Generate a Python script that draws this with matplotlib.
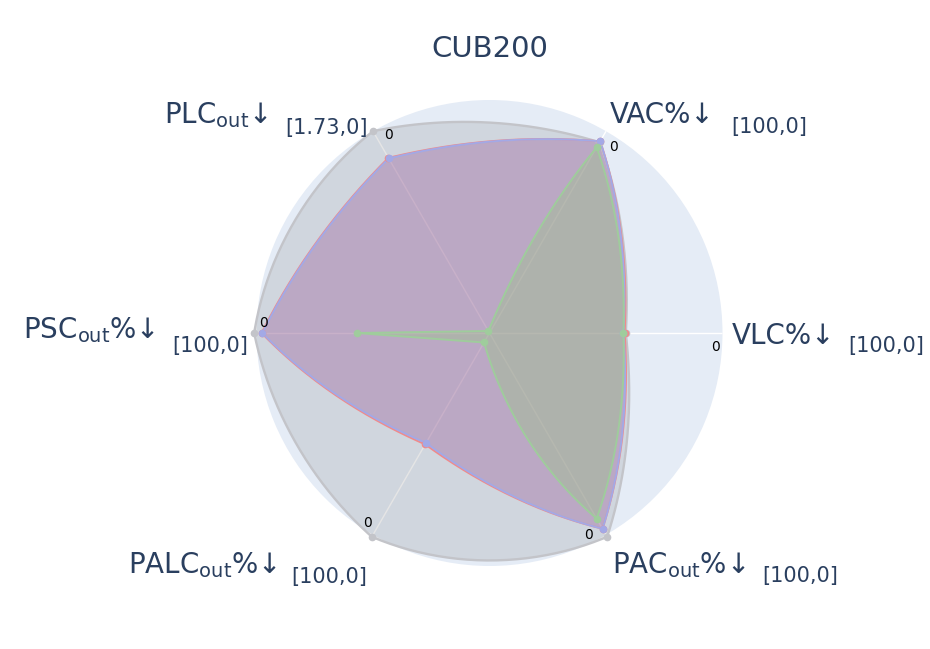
import numpy as np
import matplotlib
matplotlib.use('Agg')
import matplotlib.pyplot as plt

# axes of the radar, counter-clockwise from the right
axis_names = [r'VLC%↓', r'VAC%↓', r'PLC$_{\rm out}$↓', r'PSC$_{\rm out}$%↓',
              r'PALC$_{\rm out}$%↓', r'PAC$_{\rm out}$%↓']
axis_ranges = ['[100,0]', '[100,0]', '[1.73,0]', '[100,0]', '[100,0]', '[100,0]']
axis_angles = [0, 60, 120, 180, 240, 300]

# normalised radius of each method on each axis (1 = outer ring)
gray_r = [0.585, 0.945, 1.0, 1.01, 1.01, 1.01]
red_r = [0.58, 0.95, 0.868, 0.978, 0.552, 0.97]
blue_r = [0.575, 0.95, 0.865, 0.975, 0.545, 0.97]
green_r = [0.575, 0.92, 0.01, 0.57, 0.047, 0.92]

TXT = '#2a3f5f'
W, H = 930, 649


def curved_outline(theta, r, bend, n=50):
    """closed outline; each edge is a mix of the straight chord and the polar arc"""
    th_all, r_all = [], []
    P = len(r)
    for i in range(P):
        th0, th1 = theta[i], theta[i] + 2 * np.pi / P
        r0, r1 = r[i], r[(i + 1) % P]
        t = np.linspace(0, 1, n)
        chord = np.outer(1 - t, [r0 * np.cos(th0), r0 * np.sin(th0)]) + \
            np.outer(t, [r1 * np.cos(th1), r1 * np.sin(th1)])
        th = th0 + t * (th1 - th0)
        rr = r0 + t * (r1 - r0)
        arc = np.column_stack([rr * np.cos(th), rr * np.sin(th)])
        k = bend[i]
        xy = (1 - k) * chord + k * arc
        th_all.append(np.arctan2(xy[:, 1], xy[:, 0]))
        r_all.append(np.hypot(xy[:, 0], xy[:, 1]))
    return np.unwrap(np.concatenate(th_all)), np.concatenate(r_all)


fig = plt.figure(figsize=(W / 100, H / 100), dpi=100)
cx, cy, R = 489.5, 333, 233
ax = fig.add_axes([(cx - R) / W, (H - cy - R) / H, 2 * R / W, 2 * R / H], projection='polar')
ax.set_facecolor('#E5ECF6')
ax.set_ylim(0, 1)
ax.set_yticks([])
ax.set_thetagrids(axis_angles, [''] * 6)
ax.xaxis.grid(True, color='white', lw=1)
ax.yaxis.grid(False)
ax.spines['polar'].set_visible(False)

theta = np.deg2rad(axis_angles)

traces = [
    (gray_r, [0.33, 0.47, 0.7, 0.6, 0.75, 0.33], '#c3c4c9', (0.5, 0.5, 0.5, 0.2), 1.7),
    (red_r, [0.3] * 6, '#f08a8a', (0.94, 0.33, 0.23, 0.2), 1.4),
    (blue_r, [0.3] * 6, '#a3a9e6', (0.43, 0.43, 0.86, 0.25), 1.4),
    (green_r, [0.3, 0.15, 0.0, 0.0, 0.3, 0.3], '#9fcc9c', (0.59, 0.78, 0.51, 0.35), 1.4),
]
for vals, bend, lc, fc, lw in traces:
    vals = np.array(vals)
    th, rr = curved_outline(theta, vals, bend)
    ax.fill(th, rr, color=fc, lw=0, zorder=2, clip_on=False)
    ax.plot(th, rr, color=lc, lw=lw, zorder=3, clip_on=False)
    ax.plot(theta, vals, 'o', color=lc, ms=4.5, zorder=4, clip_on=False)

# the "0" tick at the outer end of each axis
zero_pos = [(-3.6, 0.97), (56.2, 0.96), (117, 0.955), (177.5, 0.973), (237.4, 0.968), (296, 0.965)]
for a, rr in zero_pos:
    ax.text(np.deg2rad(a), rr, '0', fontsize=10, color='black', ha='center', va='center', zorder=5)

# angular labels: (x, baseline, align) in pixels for the name and for the range
label_pos = [
    ((732, 344, 'left'), (848, 352, 'left')),
    ((610, 123, 'left'), (731, 133, 'left')),
    ((268, 123, 'right'), (368, 134, 'right')),
    ((156, 338, 'right'), (248, 352, 'right')),
    ((277, 573, 'right'), (367, 583, 'right')),
    ((612, 573, 'left'), (762, 582, 'left')),
]
for name, rng, (m, b) in zip(axis_names, axis_ranges, label_pos):
    fig.text(m[0] / W, 1 - m[1] / H, name, fontsize=20, color=TXT, ha=m[2], va='baseline')
    fig.text(b[0] / W, 1 - b[1] / H, rng, fontsize=15, color=TXT, ha=b[2], va='baseline')

fig.text(cx / W, 1 - 57 / H, 'CUB200', fontsize=21, color=TXT, ha='center', va='baseline')

fig.savefig('out.png', dpi=100, facecolor='white')
